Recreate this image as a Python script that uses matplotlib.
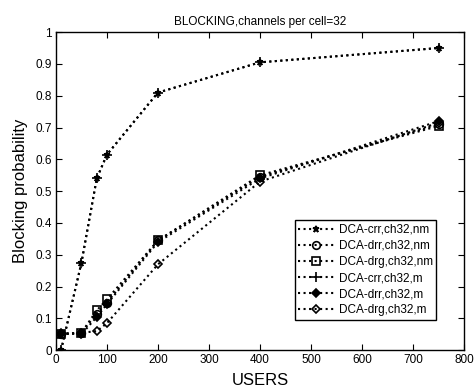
import numpy as np
import matplotlib
matplotlib.use('Agg')
import matplotlib.pyplot as plt

plt.rcParams['font.family'] = ['Liberation Sans', 'DejaVu Sans']

users = [10, 50, 80, 100, 200, 400, 750]

crr_nm = [0.0, 0.275, 0.54, 0.615, 0.81, 0.905, 0.95]
drr_nm = [0.05, 0.055, 0.115, 0.15, 0.345, 0.545, 0.71]
drg_nm = [0.05, 0.055, 0.125, 0.16, 0.345, 0.55, 0.705]
crr_m = [0.0, 0.275, 0.54, 0.615, 0.81, 0.905, 0.95]
drr_m = [0.055, 0.05, 0.105, 0.145, 0.34, 0.54, 0.72]
drg_m = [0.05, 0.055, 0.06, 0.085, 0.27, 0.53, 0.715]

labels = ['DCA-crr,ch32,nm', 'DCA-drr,ch32,nm', 'DCA-drg,ch32,nm',
          'DCA-crr,ch32,m', 'DCA-drr,ch32,m', 'DCA-drg,ch32,m']

fig = plt.figure(figsize=(4.74, 3.87), dpi=100)
ax = fig.add_axes([0.118, 0.095, 0.861, 0.822])

series = [crr_nm, drr_nm, drg_nm, crr_m, drr_m, drg_m]
markers = [('*', 'k', 5), ('o', 'none', 5.5), ('s', 'none', 5.5),
           ('+', 'none', 7), ('D', 'k', 4.5), ('D', 'none', 4.5)]
for y, lab, (m, fc, ms) in zip(series, labels, markers):
    ax.plot(users, y, linestyle=':', color='k', linewidth=1.5,
            marker=m, markerfacecolor=fc, markeredgecolor='k',
            markersize=ms, markeredgewidth=1.2, label=lab)

ax.set_xlim(0, 800)
ax.set_ylim(0, 1)
ax.set_xticks(np.arange(0, 801, 100))
ax.set_yticks(np.arange(0, 1.01, 0.1))
ax.set_yticklabels(['0', '0.1', '0.2', '0.3', '0.4', '0.5', '0.6', '0.7', '0.8', '0.9', '1'])
ax.tick_params(direction='in', top=True, right=True, labelsize=8.5, length=4, pad=3)
for s in ax.spines.values():
    s.set_linewidth(1.0)

ax.set_title('BLOCKING,channels per cell=32', fontsize=8.5, pad=5)
ax.set_xlabel('USERS', fontsize=12, labelpad=5)
ax.set_ylabel('Blocking probability', fontsize=12, labelpad=5)

leg = ax.legend(loc='lower right', bbox_to_anchor=(0.932, 0.095), fontsize=8.5,
                fancybox=False, edgecolor='k', framealpha=1,
                handlelength=3, labelspacing=0.35, borderpad=0.3,
                handletextpad=0.4, borderaxespad=0)
leg.get_frame().set_linewidth(1.0)

fig.savefig('out.png', dpi=100)
